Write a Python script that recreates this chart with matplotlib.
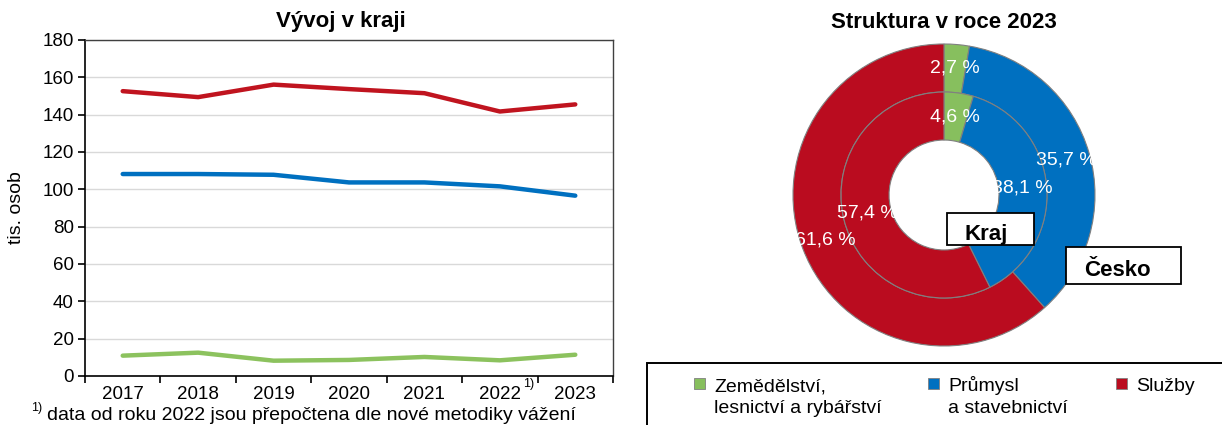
import matplotlib
matplotlib.use("Agg")
import matplotlib.pyplot as plt
from matplotlib.patches import Rectangle
import numpy as np

plt.rcParams['font.family'] = ['Liberation Sans', 'DejaVu Sans']

years = ['2017', '2018', '2019', '2020', '2021', '2022', '2023']
zemedelstvi = [10.9, 12.5, 8.2, 8.6, 10.2, 8.4, 11.4]
prumysl = [108.2, 108.2, 107.8, 103.7, 103.7, 101.6, 96.6]
sluzby = [152.6, 149.4, 156.1, 153.7, 151.5, 141.7, 145.5]

sectors_l1 = ['Zemědělství,', 'Průmysl', 'Služby']
sectors_l2 = ['lesnictví a rybářství', 'a stavebnictví', '']
cesko_share = [2.7, 35.7, 61.6]
kraj_share = [4.6, 38.1, 57.4]

c_green_line = '#8CC25E'
c_blue_line = '#0070C0'
c_red_line = '#C0141F'
pie_colors = ['#87BF5E', '#0070C0', '#BA0C1F']

W, H = 1222, 425
fig = plt.figure(figsize=(W / 100, H / 100), dpi=100)

def fx(px):
    return px / W

def fy(py):
    return 1 - py / H

# ---------------- left: line chart ----------------
ax = fig.add_axes([fx(85), fy(376), fx(613) - fx(85), fy(40) - fy(376)])
x = np.arange(len(years))
ax.plot(x, zemedelstvi, color=c_green_line, lw=3.2, solid_capstyle='round', zorder=3)
ax.plot(x, prumysl, color=c_blue_line, lw=3.2, solid_capstyle='round', zorder=3)
ax.plot(x, sluzby, color=c_red_line, lw=3.2, solid_capstyle='round', zorder=3)
ax.set_xlim(-0.5, len(years) - 0.5)
ax.set_ylim(0, 180)
ax.set_yticks(np.arange(0, 181, 20))
ax.yaxis.grid(True, color='#D9D9D9', lw=1.0)
ax.set_axisbelow(True)
ax.set_xticks(x)
ax.set_xticklabels(years)
ax.set_xticks(np.arange(-0.5, len(years), 1.0), minor=True)
ax.tick_params(axis='x', which='major', length=0, pad=7, labelsize=13.5)
ax.tick_params(axis='x', which='minor', length=5, width=1.2, direction='out', color='black')
ax.tick_params(axis='y', length=5, width=1.2, direction='out', labelsize=13.5, pad=3)
for s in ['left', 'bottom']:
    ax.spines[s].set_color('black')
    ax.spines[s].set_linewidth(1.2)
for s in ['top', 'right']:
    ax.spines[s].set_color('#404040')
    ax.spines[s].set_linewidth(1.0)
ax.set_ylabel('tis. osob', fontsize=14)
ax.yaxis.set_label_coords((25 - 85) / (613 - 85), 0.5)
ax.annotate('1)', xy=(5, 0), xycoords=('data', 'axes fraction'), xytext=(16.5, -6),
            textcoords='offset points', fontsize=9, ha='left', va='center')
fig.text(fx(341), fy(22), 'Vývoj v kraji', fontsize=16, fontweight='bold',
         ha='center', va='center')

fig.text(fx(31), fy(408), '1)', fontsize=9, ha='left', va='center')
fig.text(fx(47), fy(420), 'data od roku 2022 jsou přepočtena dle nové metodiky vážení',
         fontsize=14, ha='left', va='baseline')

# ---------------- right: double donut ----------------
cx, cy, R = 944, 195, 151
pax = fig.add_axes([fx(cx - R), fy(cy + R), fx(2 * R), (2 * R) / H])
ring_w = 0.318
inner_r = 1 - ring_w

def fmt(v):
    return f'{v:.1f} %'.replace('.', ',')

wedge_kw = dict(edgecolor='#808080', linewidth=0.8)
for vals, rad in [(cesko_share, 1.0), (kraj_share, inner_r)]:
    wedges, _ = pax.pie(vals, radius=rad, colors=pie_colors, startangle=90, counterclock=False,
                        wedgeprops=dict(width=ring_w, **wedge_kw))
    for w, v in zip(wedges, vals):
        ang = np.deg2rad((w.theta1 + w.theta2) / 2)
        rr = w.r - ring_w / 2
        pax.text(rr * np.cos(ang), rr * np.sin(ang), fmt(v), color='white', fontsize=14,
                 ha='center', va='center')
pax.set_xlim(-1, 1)
pax.set_ylim(-1, 1)
pax.set_aspect('equal')
pax.axis('off')

fig.text(fx(cx), fy(22), 'Struktura v roce 2023', fontsize=16, fontweight='bold',
         ha='center', va='center')

# Kraj / Česko boxes
fig.add_artist(Rectangle((fx(947), fy(245)), fx(1034) - fx(947), fy(213) - fy(245),
                         transform=fig.transFigure, facecolor='white', edgecolor='black', lw=1.3, zorder=5))
fig.text(fx(986), fy(240), 'Kraj', fontsize=16, fontweight='bold', ha='center', va='baseline', zorder=6)
fig.add_artist(Rectangle((fx(1066), fy(284)), fx(1181) - fx(1066), fy(247) - fy(284),
                         transform=fig.transFigure, facecolor='white', edgecolor='black', lw=1.3, zorder=5))
fig.text(fx(1117), fy(276), 'Česko', fontsize=16, fontweight='bold', ha='center', va='baseline', zorder=6)

# Legend box
fig.add_artist(Rectangle((fx(647), fy(440)), fx(600), fy(363) - fy(440),
                         transform=fig.transFigure, facecolor='none', edgecolor='black', lw=1.4, zorder=5))
leg_x = [694, 928, 1116]
for xs, l1, l2, col in zip(leg_x, sectors_l1, sectors_l2, pie_colors):
    fig.add_artist(Rectangle((fx(xs), fy(389)), fx(11), 11 / H, transform=fig.transFigure,
                             facecolor=col, edgecolor='#808080', lw=0.6, zorder=6))
    fig.text(fx(xs + 20), fy(391), l1, fontsize=14, ha='left', va='baseline', zorder=6)
    if l2:
        fig.text(fx(xs + 20), fy(413), l2, fontsize=14, ha='left', va='baseline', zorder=6)

fig.savefig('out.png', dpi=100)
